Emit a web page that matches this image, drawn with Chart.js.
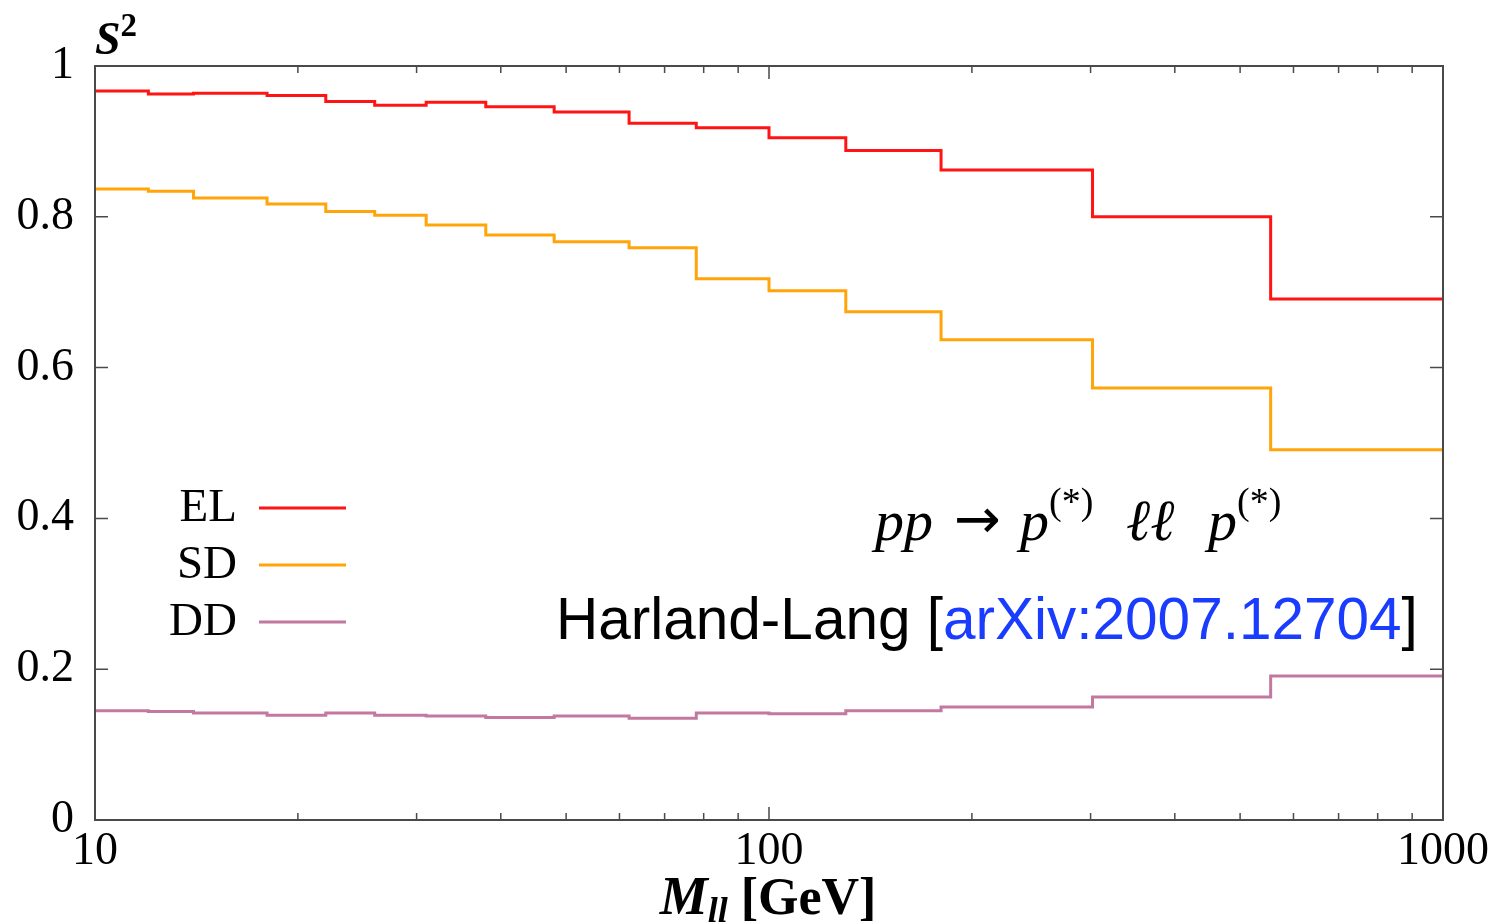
<!DOCTYPE html>
<html>
<head>
<meta charset="utf-8">
<script src="https://cdn.jsdelivr.net/npm/chart.js@4/dist/chart.umd.min.js"></script>
<style>
  html, body { margin: 0; padding: 0; background: #fff; }
</style>
</head>
<body>
<canvas id="c" width="1491" height="922"></canvas>
<script>
// ── Data ─────────────────────────────────────────────────────────
// bin edges in M_ll [GeV], one value per bin (16 bins)
const binEdges = [10, 12, 14, 18, 22, 26, 31, 38, 48, 62, 78, 100, 130, 180, 302, 555, 1000];
const elValues = [0.967, 0.963, 0.964, 0.961, 0.953, 0.948, 0.952, 0.946, 0.939, 0.924, 0.918, 0.905, 0.888, 0.862, 0.800, 0.691];
const sdValues = [0.837, 0.834, 0.825, 0.817, 0.807, 0.802, 0.789, 0.776, 0.767, 0.759, 0.718, 0.702, 0.674, 0.637, 0.573, 0.491];
const ddValues = [0.145, 0.144, 0.142, 0.139, 0.142, 0.139, 0.138, 0.136, 0.138, 0.135, 0.142, 0.141, 0.145, 0.150, 0.163, 0.191];

const seriesLabels = ['EL', 'SD', 'DD'];
const seriesColors = ['#ff1414', '#ffa50a', '#c2789f'];

const xMajorTicks = [10, 100, 1000];
const xMinorTicks = [20, 30, 40, 50, 60, 70, 80, 90, 200, 300, 400, 500, 600, 700, 800, 900];
const yTicks = [0, 0.2, 0.4, 0.6, 0.8, 1];

const SERIF = '"Liberation Serif", "DejaVu Serif", serif';
const SANS = '"Liberation Sans", Arial, sans-serif';

// histogram -> step points (last edge repeats last value)
function toSteps(values) {
  const pts = values.map((v, i) => ({ x: binEdges[i], y: v }));
  pts.push({ x: binEdges[binEdges.length - 1], y: values[values.length - 1] });
  return pts;
}

// ── Frame + inward ticks, like the gnuplot original ──────────────
const frameTicksPlugin = {
  id: 'frameTicks',
  afterDraw(chart) {
    const { ctx, chartArea: A, scales } = chart;
    const xs = scales.x, ys = scales.y;
    ctx.save();
    ctx.strokeStyle = '#4a4a4a';
    ctx.lineWidth = 1.5;
    ctx.beginPath();
    for (const v of yTicks) {
      const y = ys.getPixelForValue(v);
      ctx.moveTo(A.left, y); ctx.lineTo(A.left + 13, y);
      ctx.moveTo(A.right, y); ctx.lineTo(A.right - 13, y);
    }
    for (const v of xMajorTicks) {
      const x = xs.getPixelForValue(v);
      ctx.moveTo(x, A.bottom); ctx.lineTo(x, A.bottom - 13);
      ctx.moveTo(x, A.top); ctx.lineTo(x, A.top + 13);
    }
    for (const v of xMinorTicks) {
      const x = xs.getPixelForValue(v);
      ctx.moveTo(x, A.bottom); ctx.lineTo(x, A.bottom - 7);
      ctx.moveTo(x, A.top); ctx.lineTo(x, A.top + 7);
    }
    ctx.stroke();
    ctx.lineWidth = 2;
    ctx.strokeRect(A.left, A.top, A.right - A.left, A.bottom - A.top);
    ctx.restore();
  },
};

// draw a run of [text, font, dy, color] pieces starting at x
function drawRun(ctx, pieces, x, baseline) {
  for (const [text, font, dy, color] of pieces) {
    ctx.font = font;
    ctx.fillStyle = color || '#000';
    ctx.fillText(text, x, baseline + dy);
    x += ctx.measureText(text).width;
  }
  return x;
}
function runWidth(ctx, pieces) {
  let w = 0;
  for (const [text, font] of pieces) { ctx.font = font; w += ctx.measureText(text).width; }
  return w;
}

// ── Legend, axis titles and annotations ──────────────────────────
const textPlugin = {
  id: 'texts',
  afterDraw(chart) {
    const { ctx } = chart;
    ctx.save();
    ctx.textBaseline = 'alphabetic';

    // legend: label on the left, line sample on the right
    const legY = [508, 565, 622];
    chart.data.datasets.forEach((ds, i) => {
      ctx.font = `47px ${SERIF}`;
      ctx.fillStyle = '#000';
      ctx.textAlign = 'right';
      ctx.fillText(ds.label, 237, legY[i] + 13);
      ctx.strokeStyle = ds.borderColor;
      ctx.lineWidth = 3;
      ctx.beginPath();
      ctx.moveTo(259, legY[i]); ctx.lineTo(346, legY[i]);
      ctx.stroke();
    });
    ctx.textAlign = 'left';

    // y title S^2
    drawRun(ctx, [
      ['S', `italic bold 46px ${SERIF}`, 0],
      ['2', `bold 33px ${SERIF}`, -18],
    ], 95, 54);

    // x title M_ll [GeV]
    const xt = [
      ['M', `italic bold 54px ${SERIF}`, 0],
      ['ll', `italic bold 36px ${SERIF}`, 8],
      [' [GeV]', `bold 52px ${SERIF}`, 0],
    ];
    drawRun(ctx, xt, 768 - runWidth(ctx, xt) / 2, 914);

    // process label, pieces placed at the x they have in the figure
    const it = `italic 58px ${SERIF}`, sup = `38px ${SERIF}`;
    drawRun(ctx, [['pp', it, 0]], 875, 540);
    drawRun(ctx, [['\u2192', `56px "DejaVu Sans", sans-serif`, -2]], 954, 540);
    drawRun(ctx, [['p', it, 0], ['(*)', sup, -26]], 1020, 540);
    drawRun(ctx, [['\u2113\u2113', it, 0]], 1126, 540);
    drawRun(ctx, [['p', it, 0], ['(*)', sup, -26]], 1208, 540);

    // citation
    const cf = `58.5px ${SANS}`;
    drawRun(ctx, [
      ['Harland-Lang [', cf, 0],
      ['arXiv:2007.12704', cf, 0, '#1a3cff'],
      [']', cf, 0],
    ], 556, 639);

    ctx.restore();
  },
};

new Chart(document.getElementById('c'), {
  type: 'line',
  plugins: [frameTicksPlugin, textPlugin],
  data: {
    datasets: [elValues, sdValues, ddValues].map((vals, i) => ({
      label: seriesLabels[i],
      data: toSteps(vals),
      borderColor: seriesColors[i],
      backgroundColor: seriesColors[i],
      borderWidth: 3,
      pointRadius: 0,
      stepped: true,
      fill: false,
    })),
  },
  options: {
    responsive: false,
    devicePixelRatio: 1,
    animation: false,
    layout: { padding: { top: 66, right: 48, left: 0, bottom: 0 } },
    plugins: { legend: { display: false }, tooltip: { enabled: false } },
    scales: {
      x: {
        type: 'logarithmic',
        min: 10,
        max: 1000,
        afterBuildTicks(scale) { scale.ticks = xMajorTicks.map(v => ({ value: v, major: true })); },
        afterFit(scale) { scale.height = 102; },
        ticks: {
          color: '#000',
          font: { family: SERIF, size: 46 },
          padding: -4,
          maxRotation: 0,
          autoSkip: false,
          callback: v => String(v),
        },
        grid: { display: false },
        border: { display: false },
      },
      y: {
        min: 0,
        max: 1,
        afterBuildTicks(scale) { scale.ticks = yTicks.map(v => ({ value: v })); },
        afterFit(scale) { scale.width = 95; },
        ticks: {
          color: '#000',
          font: { family: SERIF, size: 46 },
          padding: 13,
          callback: v => String(Number(v.toFixed(1))),
        },
        grid: { display: false },
        border: { display: false },
      },
    },
  },
});
</script>
</body>
</html>
